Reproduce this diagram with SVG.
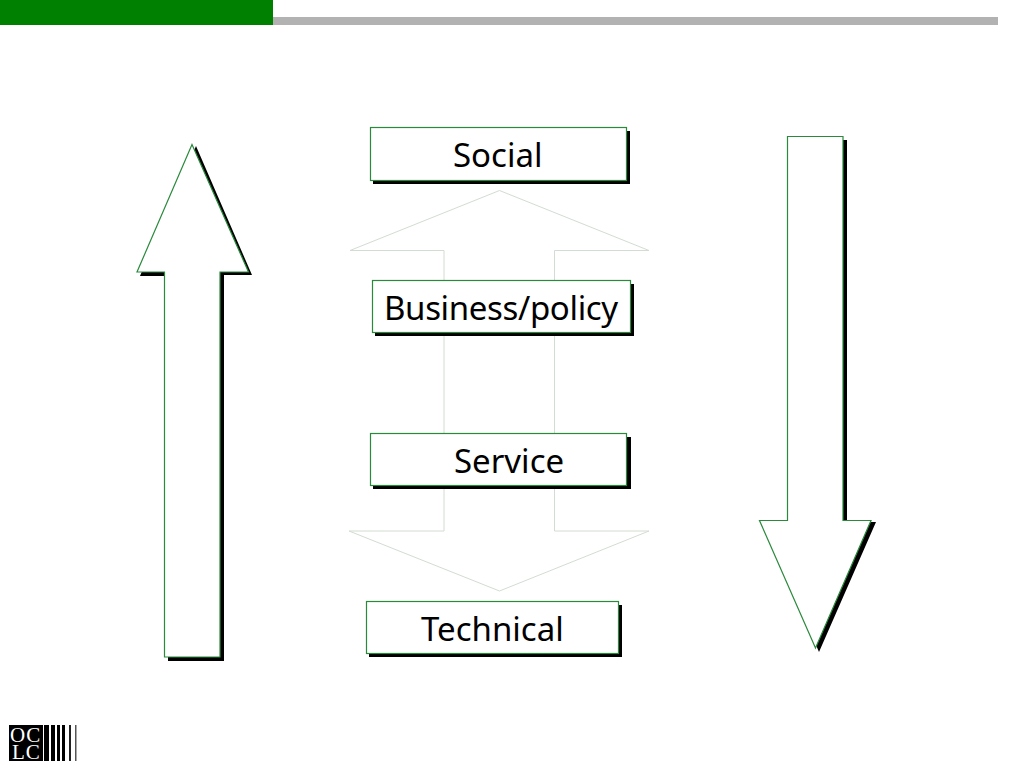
<svg xmlns="http://www.w3.org/2000/svg" width="1024" height="768" viewBox="0 0 1024 768">
<style>
.box{fill:#fff;stroke:#2a8a3c;stroke-width:1.2}
.sh{fill:#000}
.t{font-family:"Noto Sans",sans-serif;font-size:33px;fill:#000}
.ghost{fill:none;stroke:#d2dcd2;stroke-width:1}
.lg{font-family:"Liberation Serif",serif;font-size:21px;letter-spacing:1px;fill:#fff}
</style>
<rect width="1024" height="768" fill="#fff"/>
<g id="header">
<rect x="273" y="17" width="725" height="8" fill="#b2b2b2"/>
<rect x="0" y="0" width="273" height="25" fill="#008000"/>
</g>
<g id="connectors">
<path id="ghost-up" class="ghost" d="M444 280V250.500H350L499.500 190.500L649 250.500H554.500V280M444 336V433M554.500 336V433"/>
<path id="ghost-down" class="ghost" d="M444 489V531H349L499.500 591L649 531H554.500V489"/>
</g>
<g id="arrow-up">
<path class="sh" d="M196 146L252 275H224V661H168V276H140Z"/>
<path class="box" d="M192 144.500L248.500 272H220V657H164.500V272H137Z"/>
</g>
<g id="arrow-down">
<path class="sh" d="M791 140H847V522H876L819 652L763 524H791Z"/>
<path class="box" d="M787.500 136.500H843V520.500H871L815.500 648L759.500 520.500H787.500Z"/>
</g>
<g id="social">
<rect class="sh" x="373" y="131" width="257" height="53"/>
<rect class="box" x="370.500" y="127.500" width="256" height="53"/>
<text class="t" x="453" y="167">Social</text>
</g>
<g id="business">
<rect class="sh" x="375" y="284" width="259" height="52"/>
<rect class="box" x="372.500" y="280.500" width="258" height="52"/>
<text class="t" x="384" y="320" style="letter-spacing:-0.35px">Business/policy</text>
</g>
<g id="service">
<rect class="sh" x="373" y="437" width="258" height="52"/>
<rect class="box" x="370.500" y="433.500" width="256" height="52"/>
<text class="t" x="454" y="473">Service</text>
</g>
<g id="technical">
<rect class="sh" x="369" y="605" width="253" height="52"/>
<rect class="box" x="366.500" y="601.500" width="252" height="52"/>
<text class="t" x="421" y="641">Technical</text>
</g>
<g id="logo">
<rect x="9" y="725" width="34" height="36" fill="#000"/>
<text class="lg"><tspan x="10" y="742">OC</tspan><tspan x="12" y="759">LC</tspan></text>
<rect x="44" y="725" width="5" height="36"/>
<rect x="51" y="725" width="4" height="36"/>
<rect x="57" y="725" width="3" height="36"/>
<rect x="62" y="725" width="3" height="36"/>
<rect x="69" y="725" width="2" height="36" fill="#222"/>
<rect x="75" y="725" width="1.500" height="36" fill="#555"/>
</g>
</svg>
